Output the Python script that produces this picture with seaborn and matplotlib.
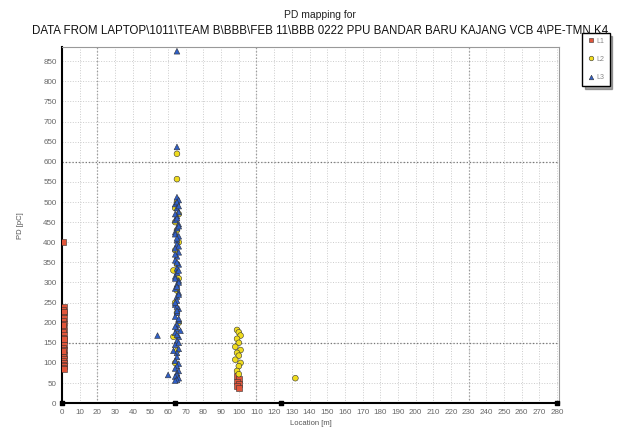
import pandas as pd
import matplotlib.pyplot as plt
import seaborn as sns

# PD locations / magnitudes
l1_x = [0.5, 1, 0.5, 1, 0.5, 1, 0.5, 1, 0.5, 1, 0.5, 1, 0.5, 1, 0.5, 1, 0.5, 1, 0.5, 1,
        0.5, 1, 0.5, 1, 0.5, 1, 0.5, 1, 0.5, 1, 0.5, 1,
        99, 100, 99, 100, 99, 100]
l1_y = [400, 240, 232, 225, 218, 212, 205, 198, 190, 183, 176, 170, 163, 156, 150, 144, 138, 132,
        126, 120, 115, 110, 105, 100, 96, 92, 88, 85, 130, 160, 195, 228,
        68, 60, 54, 48, 42, 38]

l2_x = [65, 65, 65, 64, 66, 64, 65, 66, 64, 65, 63, 66, 65, 64, 65, 66, 63, 65, 64, 65,
        99, 100, 101, 99, 100, 98, 101, 99, 100, 98, 101, 100, 99, 100, 132]
l2_y = [620, 557, 500, 485, 470, 450, 430, 400, 380, 345, 330, 310, 280, 250, 225, 200, 165, 130, 100, 60,
        182, 176, 168, 160, 150, 140, 132, 125, 118, 108, 100, 92, 80, 72, 62]

l3_x = [65, 65, 54, 60, 65, 66, 64, 65, 66, 65, 64, 66, 65, 64, 66, 65, 65, 64, 66, 65,
        64, 66, 65, 65, 64, 66, 65, 64, 66, 65, 65, 64, 66, 65, 64, 66, 65, 65, 64, 66,
        65, 64, 66, 65, 65, 64, 66, 65, 64, 66, 65, 65, 64, 66, 65, 64, 66, 65, 67, 63,
        65, 66, 64, 65, 66, 64, 65, 66, 64, 65, 66, 64, 65, 66, 64, 65, 66, 64, 65, 66]
l3_y = [875, 637, 168, 70, 512, 505, 495, 485, 475, 465, 455, 445, 435, 425, 415, 405, 395, 385, 375, 365,
        355, 345, 335, 325, 315, 305, 295, 285, 275, 265, 255, 245, 235, 225, 215, 205, 195, 185, 175, 165,
        155, 145, 135, 125, 115, 105, 98, 92, 86, 80, 75, 70, 66, 62, 58, 56, 300, 240, 180, 130,
        500, 490, 470, 460, 440, 420, 410, 390, 370, 350, 330, 310, 290, 270, 250, 230, 210, 190, 170, 150]

seg_x = [0, 64, 124, 280]
seg_y = [0, 0, 0, 0]

df = pd.concat([
    pd.DataFrame({'Location': l1_x, 'PD': l1_y, 'Phase': 'L1'}),
    pd.DataFrame({'Location': l2_x, 'PD': l2_y, 'Phase': 'L2'}),
    pd.DataFrame({'Location': l3_x, 'PD': l3_y, 'Phase': 'L3'}),
], ignore_index=True)

sns.set_style('white')
plt.rcParams['font.family'] = ['Liberation Sans', 'DejaVu Sans']

fig = plt.figure(figsize=(6.4, 4.33), dpi=100)
ax = fig.add_axes([0.097, 0.069, 0.776, 0.822])

sns.scatterplot(data=df, x='Location', y='PD', hue='Phase', style='Phase',
                palette={'L1': '#e0553a', 'L2': '#f0dc1e', 'L3': '#2f5fc8'},
                markers={'L1': 's', 'L2': 'o', 'L3': '^'},
                s=17, edgecolor='#333333', linewidth=0.4, ax=ax, zorder=3)
ax.scatter(seg_x, seg_y, marker='s', s=7, color='black', zorder=4, clip_on=False)

ax.set_xlim(0, 281)
ax.set_ylim(0, 885)
ax.set_xticks(range(0, 290, 10))
ax.set_yticks(range(0, 900, 50))
ax.tick_params(labelsize=5.8, colors='#666666', length=0, pad=4)

# grid: faint everywhere, darker lines at a few spots
ax.grid(True, linestyle=':', color='#cccccc', linewidth=0.7)
for xv in [20, 110, 230]:
    ax.axvline(xv, linestyle=':', color='#999999', linewidth=0.9, zorder=1)
for yv in [150, 600]:
    ax.axhline(yv, linestyle=':', color='#777777', linewidth=0.9, zorder=1)

for s in ['left', 'bottom']:
    ax.spines[s].set_color('black')
    ax.spines[s].set_linewidth(1.5)
for s in ['top', 'right']:
    ax.spines[s].set_color('#999999')
    ax.spines[s].set_linewidth(0.8)

ax.set_xlabel('Location [m]', fontsize=5.5, color='#555555', labelpad=3)
ax.set_ylabel('PD [pC]', fontsize=5.5, color='#555555', labelpad=14)

fig.text(0.5, 0.958, 'PD mapping for', ha='center', fontsize=7.5, color='#222222')
fig.text(0.5, 0.922,
         'DATA FROM LAPTOP\\1011\\TEAM B\\BBB\\FEB 11\\BBB 0222 PPU BANDAR BARU KAJANG VCB 4\\PE-TMN K4',
         ha='center', fontsize=8.3, color='#111111')

leg = ax.legend(loc='upper left', bbox_to_anchor=(1.04, 1.05), fontsize=5, frameon=True,
                fancybox=False, shadow=True, handletextpad=0.2, borderpad=0.7,
                labelspacing=1.6, markerscale=0.8, handlelength=1.2)
leg.get_frame().set_edgecolor('black')
leg.get_frame().set_linewidth(1.0)
for t in leg.get_texts():
    t.set_color('#888888')

fig.savefig('out.png', dpi=100)
